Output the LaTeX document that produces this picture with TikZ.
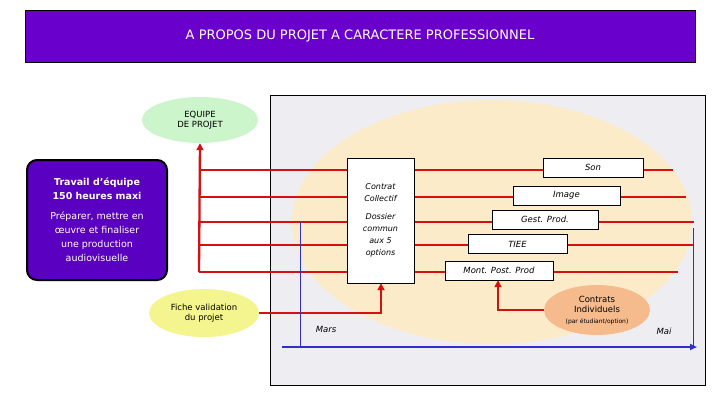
\documentclass[tikz,border=0pt]{standalone}
\usepackage{fontspec}
\setmainfont{DejaVu Sans}
\usetikzlibrary{arrows.meta,shapes.geometric}
\definecolor{tpurple}{HTML}{6A00CC}
\definecolor{bpurple}{HTML}{5A00C0}
\definecolor{panel}{HTML}{EEEEF2}
\definecolor{beige}{HTML}{FBEBC8}
\definecolor{lgreen}{HTML}{CCF5CC}
\definecolor{lyellow}{HTML}{F5F590}
\definecolor{lorange}{HTML}{F5BB8C}
\definecolor{rline}{HTML}{D41010}
\definecolor{bline}{HTML}{3030C8}
\tikzset{
 rl/.style={draw=rline,line width=2.3pt},
 ra/.style={rl,-{Triangle[length=7pt,width=7pt]}},
 optbox/.style={draw=black,fill=white,minimum height=19pt,inner sep=1pt,font=\itshape\fontsize{8.5}{10}\selectfont},
 ell/.style={ellipse,draw=none,align=center,font=\fontsize{8.5}{10.5}\selectfont,inner sep=0pt},
}
\begin{document}
\begin{tikzpicture}[x=1pt,y=-1pt]
\useasboundingbox (0,0) rectangle (720,405);
\fill[white] (0,0) rectangle (720,405);
\node[draw=black,fill=tpurple,minimum width=670pt,minimum height=52pt,text=white,font=\fontsize{13}{15}\selectfont] (title) at (360,36) {A PROPOS DU PROJET A CARACTERE PROFESSIONNEL};
\node[draw=black,fill=panel,minimum width=435pt,minimum height=290pt,inner sep=0pt] (panel) at (487.5,240) {};
\begin{scope}
\clip (271,96) rectangle (704,384);
\fill[beige] (492,222) ellipse [x radius=200pt,y radius=122pt];
\end{scope}
\node[ell,fill=lgreen,minimum width=116pt,minimum height=46pt] (eq) at (200,120) {EQUIPE\\DE PROJET};
\node[draw=black,line width=2pt,fill=bpurple,rounded corners=10pt,minimum width=140pt,minimum height=120pt,text=white,align=center,font=\fontsize{9.5}{14}\selectfont] (trav) at (97,220) {\textbf{Travail d'équipe}\\\textbf{150 heures maxi}\\[6pt]Préparer, mettre en\\œuvre et finaliser\\une production\\audiovisuelle};
\coordinate (c0) at (199,170);\coordinate (c1) at (199,197);\coordinate (c2) at (199,222);\coordinate (c3) at (199,245);\coordinate (c4) at (199,272);
\coordinate (e0) at (673,170);\coordinate (e1) at (686,197);\coordinate (e2) at (694,222);\coordinate (e3) at (694,245);\coordinate (e4) at (678,272);
\draw[rl] (c0)--(e0); \draw[rl] (c1)--(e1); \draw[rl] (c2)--(e2); \draw[rl] (c3)--(e3); \draw[rl] (c4)--(e4);
\draw[ra] (c4)--(eq.south);
\node[draw=black,fill=white,minimum width=67pt,minimum height=125pt,align=center,font=\itshape\fontsize{8}{12}\selectfont] (ctr) at (380.5,220.5) {Contrat\\Collectif\\[6pt]Dossier\\commun\\aux 5\\options};
\node[optbox,minimum width=100pt] (son) at (593,167.5) {Son};
\node[optbox,minimum width=107pt] (img) at (566.5,195.5) {Image};
\node[optbox,minimum width=106pt] (gest) at (545,219.5) {Gest. Prod.};
\node[optbox,minimum width=99pt] (tiee) at (517.5,244) {TIEE};
\node[optbox,minimum width=108pt] (mont) at (499,270.5) {Mont. Post. Prod};
\node[ell,fill=lyellow,minimum width=110pt,minimum height=48pt] (fiche) at (204,313) {Fiche validation\\du projet};
\node[ell,fill=lorange,minimum width=106pt,minimum height=50pt] (ci) at (597,310) {Contrats\\Individuels\\{\fontsize{6}{8}\selectfont(par étudiant/option)}};
\draw[ra] (fiche.east) -| (ctr.south -| 381,0);
\draw[ra] (ci.west) -| (mont.south -| 498,0);
\coordinate (b0) at (282,347); \coordinate (b1) at (697,347);
\draw[bline,line width=0.6pt] (300,222)--(300,347);
\draw[bline,line width=0.6pt] (693,228)--(693,347);
\draw[bline,line width=2.4pt,-{Triangle[length=7pt,width=6pt]}] (b0)--(b1);
\node[font=\itshape\fontsize{8.5}{10}\selectfont] (mars) at (326,329) {Mars};
\node[font=\itshape\fontsize{8.5}{10}\selectfont] (mai) at (664,331) {Mai};
\end{tikzpicture}
\end{document}
